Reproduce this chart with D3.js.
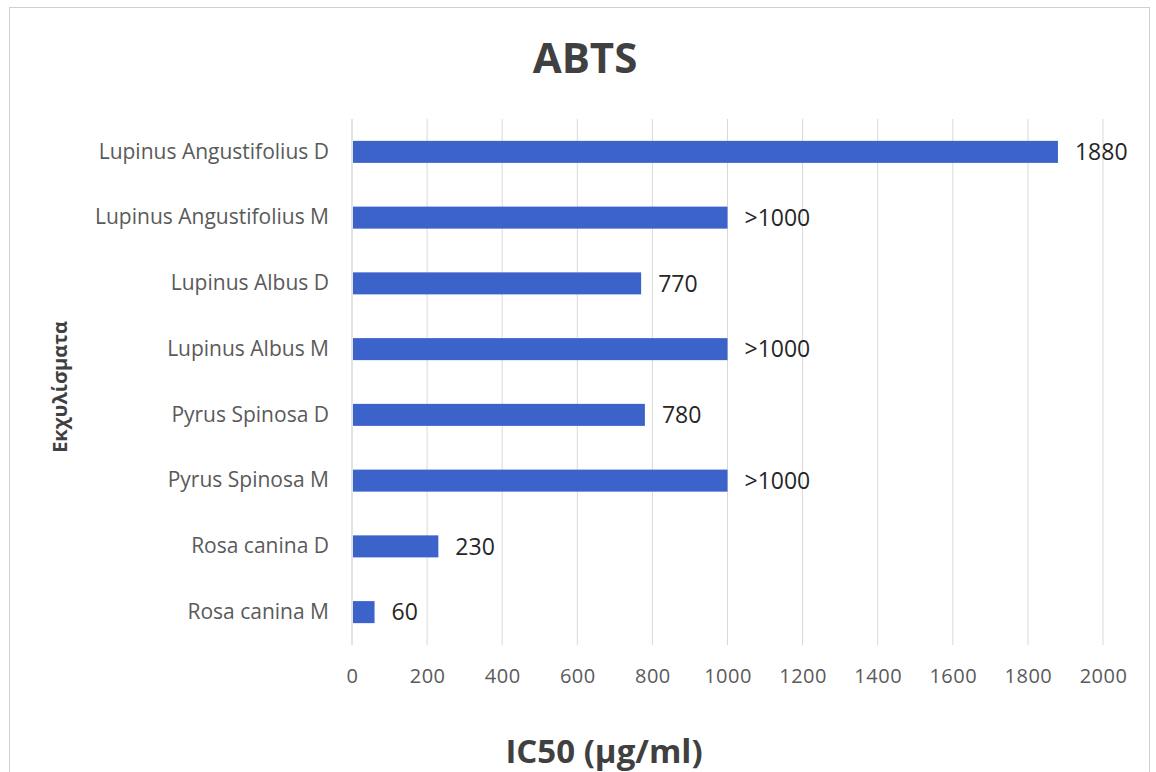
<!DOCTYPE html>
<html><head><meta charset="utf-8">
<script src="https://cdn.jsdelivr.net/npm/d3@7"></script>
<style>body{margin:0;background:#fff}svg{display:block}</style>
</head><body>
<svg id="c" width="1156" height="772"></svg>
<script>
const categories = ["Lupinus Angustifolius D","Lupinus Angustifolius M","Lupinus Albus D","Lupinus Albus M","Pyrus Spinosa D","Pyrus Spinosa M","Rosa canina D","Rosa canina M"];
const values = [1880, 1000, 770, 1000, 780, 1000, 230, 60];
const valueLabels = ["1880", ">1000", "770", ">1000", "780", ">1000", "230", "60"];
const xTicks = [0,200,400,600,800,1000,1200,1400,1600,1800,2000];
const title = "ABTS";
const xTitle = "IC50 (μg/ml)";
const yTitle = "Εκχυλίσματα";

const svg = d3.select("#c");
const font = "'Open Sans', sans-serif";
svg.append("rect").attr("x",9.5).attr("y",7.5).attr("width",1140).attr("height",770)
  .attr("fill","#fff").attr("stroke","#d0d0d0");

const m = {left:352, right:1103, top:119, bottom:645};
const x = d3.scaleLinear().domain([0,2000]).range([m.left, m.right]);
const y = d3.scaleBand().domain(categories).range([m.top, m.bottom]).paddingInner(0.665).paddingOuter(0.3325);

// gridlines
svg.append("g").selectAll("line").data(xTicks.slice(1)).join("line")
  .attr("x1",d=>x(d)).attr("x2",d=>x(d)).attr("y1",m.top).attr("y2",m.bottom)
  .attr("stroke","#d9d9d9").attr("stroke-width",1);
svg.append("line").attr("x1",x(0)).attr("x2",x(0)).attr("y1",m.top).attr("y2",m.bottom)
  .attr("stroke","#c8c8c8");

// bars
svg.append("g").selectAll("rect").data(values).join("rect")
  .attr("x",x(0)+1).attr("y",(d,i)=>y(categories[i]))
  .attr("width",d=>x(d)-x(0)-1).attr("height",y.bandwidth())
  .attr("fill","#3b63c9");

// value labels
svg.append("g").selectAll("text").data(values).join("text")
  .attr("x",d=>x(d)+17).attr("y",(d,i)=>y(categories[i])+y.bandwidth()/2)
  .attr("dy","0.36em").attr("font-family",font).attr("font-size",23).attr("fill","#262626")
  .text((d,i)=>valueLabels[i]);

// y axis labels
const ya = d3.axisLeft(y).tickSize(0).tickPadding(23);
const gy = svg.append("g").attr("transform",`translate(${m.left},0)`).call(ya);
gy.select(".domain").remove();
gy.selectAll("text").attr("font-family",font).attr("font-size",21).attr("fill","#5a5a5a");

// x axis labels
const xa = d3.axisBottom(x).tickValues(xTicks).tickSize(0).tickPadding(24).tickFormat(d3.format("d"));
const gx = svg.append("g").attr("transform",`translate(0,${m.bottom})`).call(xa);
gx.select(".domain").remove();
gx.selectAll("text").attr("font-family",font).attr("font-size",20).attr("letter-spacing","0.5px").attr("fill","#5a5a5a");

// titles
svg.append("text").attr("x",585).attr("y",73).attr("text-anchor","middle")
  .attr("font-family",font).attr("font-weight","bold").attr("font-size",42).attr("fill","#404040").text(title);
svg.append("text").attr("x",604).attr("y",763).attr("text-anchor","middle")
  .attr("font-family",font).attr("font-weight","bold").attr("font-size",33).attr("fill","#404040").text(xTitle);
svg.append("text").attr("transform","translate(67,387) rotate(-90)").attr("text-anchor","middle")
  .attr("font-family",font).attr("font-weight","bold").attr("font-size",20).attr("fill","#404040").text(yTitle);
</script>
</body></html>
